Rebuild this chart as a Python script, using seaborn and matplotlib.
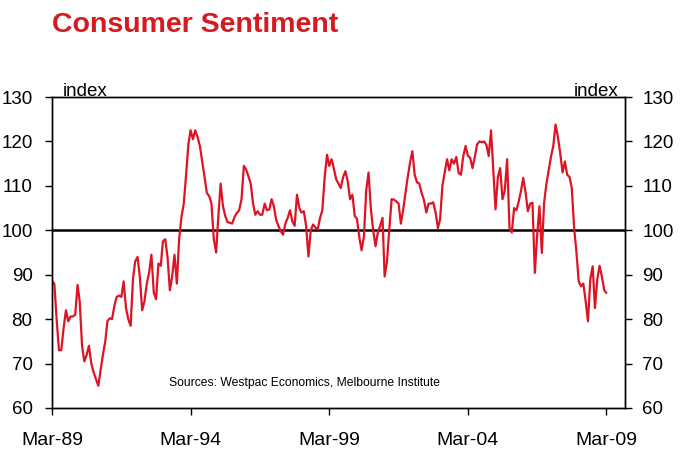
import matplotlib
matplotlib.use("Agg")
import matplotlib.pyplot as plt
import numpy as np
import pandas as pd
import seaborn as sns

# Monthly consumer sentiment index, Mar-1989 .. Mar-2009
sentiment_1989_1994 = [
    88.5, 88, 80, 73, 73, 78, 82, 79.5, 80.6, 80.6,
    81, 87.7, 84, 74, 70.5, 72, 74, 70, 68, 66.5,
    65, 68.5, 72, 75, 79.5, 80.2, 80, 83, 85, 85.3,
    85, 88.5, 82.5, 80, 78.5, 89, 93, 94, 89.6, 82,
    84, 88, 90.5, 94.5, 86, 84.5, 92.5, 92, 97.5, 98,
    94, 86.5, 89.6, 94.5, 88, 98, 103, 106, 112.5, 119.5,
]
sentiment_1994_1999 = [
    122.5, 120.5, 122.5, 121, 119, 115.5, 112, 108.4, 107.7, 106,
    98, 95, 103, 110.5, 105.5, 103.2, 101.8, 101.7, 101.5, 103,
    103.9, 104.5, 107, 114.5, 113.7, 112.2, 110.5, 106, 103.5, 104.3,
    103.5, 103.5, 106, 104.5, 104.7, 107, 105.5, 102.4, 101, 99.8,
    99, 101.5, 102.8, 104.5, 102, 101, 108, 105, 104, 104.3,
    101, 94.1, 100, 101.3, 100.6, 100.2, 102.8, 104.5, 112, 117,
]
sentiment_1999_2004 = [
    114.5, 116, 114, 111.5, 110.5, 109.5, 112, 113.3, 111, 107,
    108, 103.2, 102.6, 98.5, 95.5, 98.6, 109, 113, 104.7, 100,
    96.4, 99.5, 101, 102.8, 89.6, 93, 100.2, 107, 106.9, 106.5,
    106, 101.5, 104.7, 108.5, 112.2, 115.5, 117.8, 112.5, 110.8, 110.5,
    108.4, 106.8, 104, 106, 106, 106.3, 104, 100.5, 102.4, 110,
    113, 116, 113.5, 116, 115, 116.5, 112.9, 112.5, 116.7, 119,
]
sentiment_2004_2009 = [
    116.8, 116.3, 114, 116.5, 119.3, 120, 119.8, 120, 119.2, 116.7,
    122.5, 113, 104.7, 112, 114, 107, 109, 116, 100.5, 99.5,
    105, 104.5, 106.5, 109, 111.8, 108.5, 104.3, 106, 106.2, 90.4,
    99, 105.4, 94.9, 106.2, 110.5, 113.7, 116.5, 119, 123.8, 121,
    117.4, 113, 115.5, 112.5, 112, 109.5, 100.5, 94.9, 88.5, 87.4,
    88, 84, 79.5, 89, 91.9, 82.5, 89, 92, 89.5, 86.5, 85.9,
]
start_month = "1989-03"
x_tick_labels = ["Mar-89", "Mar-94", "Mar-99", "Mar-04", "Mar-09"]
y_ticks = [60, 70, 80, 90, 100, 110, 120, 130]

values = (sentiment_1989_1994 + sentiment_1994_1999
          + sentiment_1999_2004 + sentiment_2004_2009)
dates = pd.date_range(start_month, periods=len(values), freq="MS")
df = pd.DataFrame({"date": dates, "index": values})

sns.set_theme(style="ticks")
plt.rcParams["font.family"] = ["Liberation Sans", "DejaVu Sans"]

W, H = 680, 462
fig = plt.figure(figsize=(W / 100, H / 100), dpi=100)
fig.patch.set_facecolor("white")
ax = fig.add_axes([52 / W, (H - 408) / H, 573 / W, 311 / H])

line_red = "#DD1424"
sns.lineplot(data=df, x="date", y="index", ax=ax, color=line_red, lw=1.6)
ax.axhline(100, color="black", lw=1.8, zorder=1)

ax.set_ylim(60, 130)
ax.set_xlim(dates[0], pd.Timestamp("2009-11-01"))
ax.set_yticks(y_ticks)
tick_dates = pd.to_datetime(x_tick_labels, format="%b-%y")
ax.set_xticks(tick_dates)
ax.set_xticklabels(x_tick_labels)
ax.set_xlabel("")
ax.set_ylabel("")

ax2 = ax.twinx()
ax2.set_ylim(60, 130)
ax2.set_yticks(y_ticks)
ax2.set_ylabel("")

for a in (ax, ax2):
    for s in a.spines.values():
        s.set_color("black")
        s.set_linewidth(1.0)
        s.set_visible(True)
ax.tick_params(axis="x", direction="out", length=5, width=1, color="black",
               labelsize=14, pad=12, labelcolor="black")
ax.tick_params(axis="y", direction="out", length=5, width=1, color="black",
               labelsize=13.5, pad=9, labelcolor="black")
ax2.tick_params(axis="y", direction="out", length=5, width=1, color="black",
                labelsize=13.5, pad=7.5, labelcolor="black")

fig.text(52 / W, 1 - 32 / H, "Consumer Sentiment", fontsize=20.5,
         fontweight="bold", color="#D71920", ha="left", va="baseline")
ax.text(0.019, 1.004, "index", transform=ax.transAxes, fontsize=13.5,
        ha="left", va="baseline", color="black")
ax.text(0.9895, 1.004, "index", transform=ax.transAxes, fontsize=13.5,
        ha="right", va="baseline", color="black")
ax.text(0.204, 0.0707, "Sources: Westpac Economics, Melbourne Institute",
        transform=ax.transAxes, fontsize=8.7, ha="left", va="baseline",
        color="black")

fig.savefig("out.png", dpi=100, facecolor="white")
